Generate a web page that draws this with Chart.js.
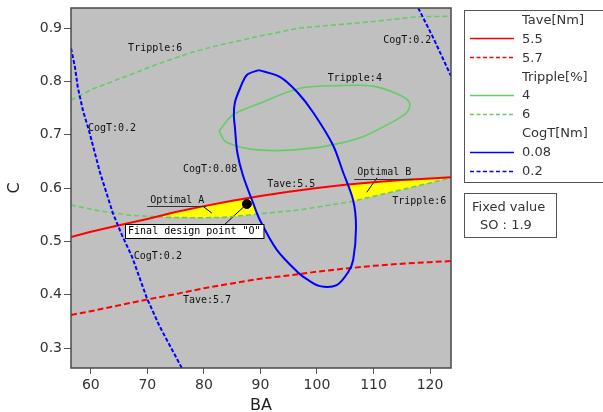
<!DOCTYPE html>
<html>
<head>
<meta charset="utf-8">
<script src="https://cdn.jsdelivr.net/npm/chart.js@4.4.1/dist/chart.umd.min.js"></script>
<style>
html,body{margin:0;padding:0;background:#ffffff;overflow:hidden;}
canvas{display:block;}
</style>
</head>
<body>
<canvas id="chart" width="603" height="412"></canvas>
<script>
// ---------------- data ----------------
const xTicks = [60, 70, 80, 90, 100, 110, 120];
const yTicks = [0.3, 0.4, 0.5, 0.6, 0.7, 0.8, 0.9];
const xRange = [56.5, 123.7];
const yRange = [0.2625, 0.9375];

// Tave = 5.5 Nm (solid red)
const tave55BA = [56.5, 60, 65, 70, 75, 80, 85, 90, 95, 100, 105, 110, 115, 120, 123.7];
const tave55C  = [0.508, 0.518, 0.530, 0.542, 0.555, 0.566, 0.576, 0.585, 0.593, 0.600, 0.606, 0.611, 0.615, 0.618, 0.620];
// Tave = 5.7 Nm (dashed red)
const tave57BA = [56.5, 60, 65, 70, 75, 80, 85, 90, 95, 100, 105, 110, 115, 120, 123.7];
const tave57C  = [0.362, 0.369, 0.380, 0.391, 0.401, 0.412, 0.421, 0.430, 0.436, 0.443, 0.449, 0.454, 0.458, 0.461, 0.463];
// Tripple = 4 % (solid green, closed)
const tripple4BA = [82.7, 85.1, 89.9, 97.0, 104.1, 109.9, 114.7, 116.4, 115.9, 113.4, 107.6, 101.8, 95.2, 89.9, 86.4, 83.7, 82.7];
const tripple4C  = [0.707, 0.737, 0.759, 0.787, 0.792, 0.791, 0.774, 0.759, 0.742, 0.724, 0.694, 0.679, 0.671, 0.671, 0.677, 0.688, 0.707];
// Tripple = 6 % (dashed green, two branches)
const tripple6UpperBA = [56.5, 60.4, 66.4, 72.2, 78.1, 82.8, 89.9, 97.0, 108.8, 117.7, 123.7];
const tripple6UpperC  = [0.765, 0.786, 0.810, 0.834, 0.855, 0.868, 0.885, 0.900, 0.911, 0.921, 0.922];
const tripple6LowerBA = [56.5, 61.6, 66.9, 73.5, 79.3, 83.4, 89.4, 97.0, 105.8, 114.7, 123.7];
const tripple6LowerC  = [0.568, 0.557, 0.549, 0.545, 0.544, 0.545, 0.551, 0.559, 0.574, 0.596, 0.619];
// CogT = 0.08 Nm (solid blue, closed)
const cogt008BA = [89.7, 87.6, 86.4, 85.5, 85.3, 85.5, 85.9, 86.9, 88.7, 89.9, 92.9, 96.6, 98.2, 100.5, 103.5, 105.5, 106.4, 106.9, 106.4, 104.6, 102.8, 99.3, 96.5, 93.5, 89.7];
const cogt008C  = [0.821, 0.812, 0.787, 0.761, 0.737, 0.712, 0.667, 0.624, 0.572, 0.540, 0.484, 0.442, 0.429, 0.416, 0.418, 0.442, 0.465, 0.527, 0.577, 0.630, 0.681, 0.742, 0.780, 0.808, 0.821];
// CogT = 0.2 Nm (dashed blue, two branches)
const cogt02LeftBA = [56.5, 57.2, 57.7, 58.6, 59.8, 61.6, 63.9, 65.5, 67.3, 69.9, 72.2, 76.1];
const cogt02LeftC  = [0.862, 0.827, 0.789, 0.746, 0.703, 0.630, 0.553, 0.512, 0.471, 0.394, 0.340, 0.2625];
const cogt02RightBA = [117.9, 120.5, 123.7];
const cogt02RightC  = [0.9375, 0.883, 0.810];
// Optimal regions (yellow)
const optABA = [71.7, 75, 80, 85, 88.4, 89.5, 85, 80, 75, 71.7];
const optAC  = [0.546, 0.555, 0.566, 0.576, 0.582, 0.551, 0.546, 0.544, 0.545, 0.546];
const optBBA = [105.4, 110, 115, 120, 123.7, 123.7, 114.7, 110, 106.4, 105.4];
const optBC  = [0.607, 0.611, 0.615, 0.618, 0.620, 0.619, 0.596, 0.584, 0.575, 0.607];
// Final design point "O"
const designBA = [87.6];
const designC  = [0.570];

// Text
const legendTitles = ['Tave[Nm]', 'Tripple[%]', 'CogT[Nm]'];
const legendValues = [['5.5', '5.7'], ['4', '6'], ['0.08', '0.2']];
const fixedText = ['Fixed value', 'SO : 1.9'];
const contourLabels = [
  {text: 'Tripple:6', x: 66.6, y: 0.861},
  {text: 'CogT:0.2', x: 111.7, y: 0.876},
  {text: 'Tripple:4', x: 101.9, y: 0.806},
  {text: 'CogT:0.2', x: 59.5, y: 0.712},
  {text: 'CogT:0.08', x: 76.3, y: 0.634},
  {text: 'Tave:5.5', x: 91.2, y: 0.606},
  {text: 'Tripple:6', x: 113.3, y: 0.574},
  {text: 'CogT:0.2', x: 67.6, y: 0.472},
  {text: 'Tave:5.7', x: 76.3, y: 0.390}
];
const callouts = [
  {text: 'Optimal A', x: 70.5, y: 0.577, from: [79.8, 0.566], to: [81.4, 0.553]},
  {text: 'Optimal B', x: 107.1, y: 0.629, from: [110.6, 0.619], to: [108.8, 0.592]}
];
const designBox = {text: 'Final design point "O"', x: 78.3, y: 0.519, from: [83.7, 0.532]};

// ---------------- styles ----------------
const RED = '#ff0000', GREEN = '#66cc66', BLUE = '#0000ff', YELLOW = '#ffff00';
const legendColors = [RED, GREEN, BLUE];

function pts(xs, ys) { return xs.map((x, i) => ({x: x, y: ys[i]})); }
function line(label, xs, ys, color, width, dash, tension, order) {
  return {label, data: pts(xs, ys), borderColor: color, borderWidth: width,
          borderDash: dash || [], tension: tension || 0, showLine: true,
          pointRadius: 0, fill: false, order: order};
}

const datasets = [
  line('Tave 5.5', tave55BA, tave55C, RED, 2, null, 0, 2),
  line('Tave 5.7', tave57BA, tave57C, RED, 2, [6, 3], 0, 2),
  line('Tripple 4', tripple4BA, tripple4C, GREEN, 1.6, null, 0.3, 3),
  line('Tripple 6a', tripple6UpperBA, tripple6UpperC, GREEN, 1.6, [5, 3], 0, 3),
  line('Tripple 6b', tripple6LowerBA, tripple6LowerC, GREEN, 1.6, [5, 3], 0, 3),
  line('CogT 0.08', cogt008BA, cogt008C, BLUE, 2, null, 0.3, 1),
  line('CogT 0.2a', cogt02LeftBA, cogt02LeftC, BLUE, 2, [4, 2], 0, 1),
  line('CogT 0.2b', cogt02RightBA, cogt02RightC, BLUE, 2, [4, 2], 0, 1),
  {label: 'Optimal A', data: pts(optABA, optAC), showLine: true, pointRadius: 0,
   borderColor: 'rgba(0,0,0,0)', borderWidth: 0, backgroundColor: YELLOW, fill: 'shape', order: 10},
  {label: 'Optimal B', data: pts(optBBA, optBC), showLine: true, pointRadius: 0,
   borderColor: 'rgba(0,0,0,0)', borderWidth: 0, backgroundColor: YELLOW, fill: 'shape', order: 10},
  {label: 'Design', data: pts(designBA, designC), showLine: false, pointRadius: 4.5,
   pointBackgroundColor: '#000', pointBorderColor: '#000', backgroundColor: '#000', borderColor: '#000', order: 0}
];

const MONO = '10px "DejaVu Sans Mono", "Liberation Mono", monospace';
const SANS = '"DejaVu Sans", "Liberation Sans", sans-serif';

function P(chart, x, y) {
  return [chart.scales.x.getPixelForValue(x), chart.scales.y.getPixelForValue(y)];
}

const decor = {
  id: 'decor',
  beforeDraw(chart) {
    const c = chart.ctx, a = chart.chartArea;
    c.save();
    c.fillStyle = '#ffffff';
    c.fillRect(0, 0, chart.width, chart.height);
    c.fillStyle = '#c0c0c0';
    c.fillRect(a.left, a.top, a.right - a.left, a.bottom - a.top);
    c.restore();
  },
  beforeDatasetsDraw(chart) {
    const c = chart.ctx;
    c.save();
    c.strokeStyle = '#000';
    c.lineWidth = 1;
    callouts.forEach(o => {
      const p1 = P(chart, o.from[0], o.from[1]), p2 = P(chart, o.to[0], o.to[1]);
      c.beginPath(); c.moveTo(p1[0], p1[1]); c.lineTo(p2[0], p2[1]); c.stroke();
    });
    const d = P(chart, designBA[0], designC[0]), b = P(chart, designBox.from[0], designBox.from[1]);
    c.beginPath(); c.moveTo(d[0], d[1]); c.lineTo(b[0], b[1]); c.stroke();
    c.restore();
  },
  afterDatasetsDraw(chart) {
    const c = chart.ctx, a = chart.chartArea;
    c.save();
    c.font = MONO;
    c.fillStyle = '#111';
    c.textBaseline = 'middle';
    c.textAlign = 'left';
    contourLabels.forEach(o => {
      const p = P(chart, o.x, o.y);
      c.fillText(o.text, p[0], p[1]);
    });
    callouts.forEach(o => {
      const p = P(chart, o.x, o.y);
      c.fillText(o.text, p[0], p[1]);
      const w = c.measureText(o.text).width;
      c.strokeStyle = '#333';
      c.lineWidth = 1;
      c.beginPath(); c.moveTo(p[0] - 3, Math.round(p[1] + 6) + 0.5); c.lineTo(p[0] + w + 2, Math.round(p[1] + 6) + 0.5); c.stroke();
    });
    // design box
    const q = P(chart, designBox.x, designBox.y);
    const tw = c.measureText(designBox.text).width;
    const bx = Math.round(q[0] - tw / 2 - 3) + 0.5, by = Math.round(q[1] - 7) + 0.5;
    c.fillStyle = '#ffffff';
    c.fillRect(bx, by, tw + 6, 14);
    c.strokeStyle = '#000';
    c.lineWidth = 1;
    c.strokeRect(bx, by, tw + 6, 14);
    c.fillStyle = '#000';
    c.textAlign = 'center';
    c.fillText(designBox.text, q[0], q[1] + 0.5);
    // frame
    c.strokeStyle = '#4a4a4a';
    c.lineWidth = 1.5;
    c.strokeRect(a.left, a.top, a.right - a.left, a.bottom - a.top);
    c.restore();
  },
  afterDraw(chart) {
    const c = chart.ctx;
    c.save();
    // legend box
    c.strokeStyle = '#555';
    c.lineWidth = 1;
    c.strokeRect(464.5, 10.5, 160, 172);
    c.font = '13px ' + SANS;
    c.textBaseline = 'middle';
    c.textAlign = 'left';
    let row = 0;
    const rowY = r => 20.5 + r * 18.9;
    legendTitles.forEach((t, g) => {
      c.fillStyle = '#333';
      c.fillText(t, 522, rowY(row)); row++;
      legendValues[g].forEach((v, k) => {
        const y = rowY(row);
        c.strokeStyle = legendColors[g];
        c.lineWidth = 1.6;
        c.setLineDash(k === 1 ? [4, 2.5] : []);
        c.beginPath(); c.moveTo(470, Math.round(y - 1) + 0.5); c.lineTo(514, Math.round(y - 1) + 0.5); c.stroke();
        c.setLineDash([]);
        c.fillStyle = '#333';
        c.fillText(v, 522, y);
        row++;
      });
    });
    // fixed value box
    c.strokeStyle = '#555';
    c.lineWidth = 1;
    c.strokeRect(464.5, 193.5, 92, 44);
    c.fillStyle = '#333';
    c.fillText(fixedText[0], 472, 207.5);
    c.fillText(fixedText[1], 480, 225.5);
    c.restore();
  }
};

new Chart(document.getElementById('chart'), {
  type: 'scatter',
  data: {datasets: datasets},
  options: {
    responsive: false,
    animation: false,
    devicePixelRatio: 1,
    events: [],
    layout: {padding: {left: 0, top: 8, right: 152, bottom: 0}},
    plugins: {
      legend: {display: false},
      tooltip: {enabled: false},
      filler: {drawTime: 'beforeDatasetsDraw'}
    },
    scales: {
      x: {
        type: 'linear', min: xRange[0], max: xRange[1],
        afterBuildTicks: s => { s.ticks = xTicks.map(v => ({value: v})); },
        afterFit: s => { s.height = 44; s.paddingLeft = 0; s.paddingRight = 0; s.paddingTop = 0; s.paddingBottom = 0; },
        grid: {drawOnChartArea: false, drawTicks: true, tickLength: 6, color: '#555', lineWidth: 1},
        border: {display: false},
        ticks: {autoSkip: false, maxRotation: 0, padding: 3, color: '#333',
                font: {family: SANS, size: 14}, callback: v => String(v)},
        title: {display: true, text: 'BA', color: '#222', font: {family: SANS, size: 16},
                padding: {top: 0, bottom: -3}}
      },
      y: {
        type: 'linear', min: yRange[0], max: yRange[1],
        afterBuildTicks: s => { s.ticks = yTicks.map(v => ({value: v})); },
        afterFit: s => { s.width = 71; s.paddingLeft = 0; s.paddingRight = 0; s.paddingTop = 0; s.paddingBottom = 0; },
        grid: {drawOnChartArea: false, drawTicks: true, tickLength: 7, color: '#555', lineWidth: 1},
        border: {display: false},
        ticks: {autoSkip: false, padding: 2, color: '#333',
                font: {family: SANS, size: 14}, callback: v => Number(v).toFixed(1)},
        title: {display: true, text: 'C', color: '#222', font: {family: SANS, size: 16},
                padding: {top: 5, bottom: 0}}
      }
    }
  },
  plugins: [decor]
});
</script>
</body>
</html>
